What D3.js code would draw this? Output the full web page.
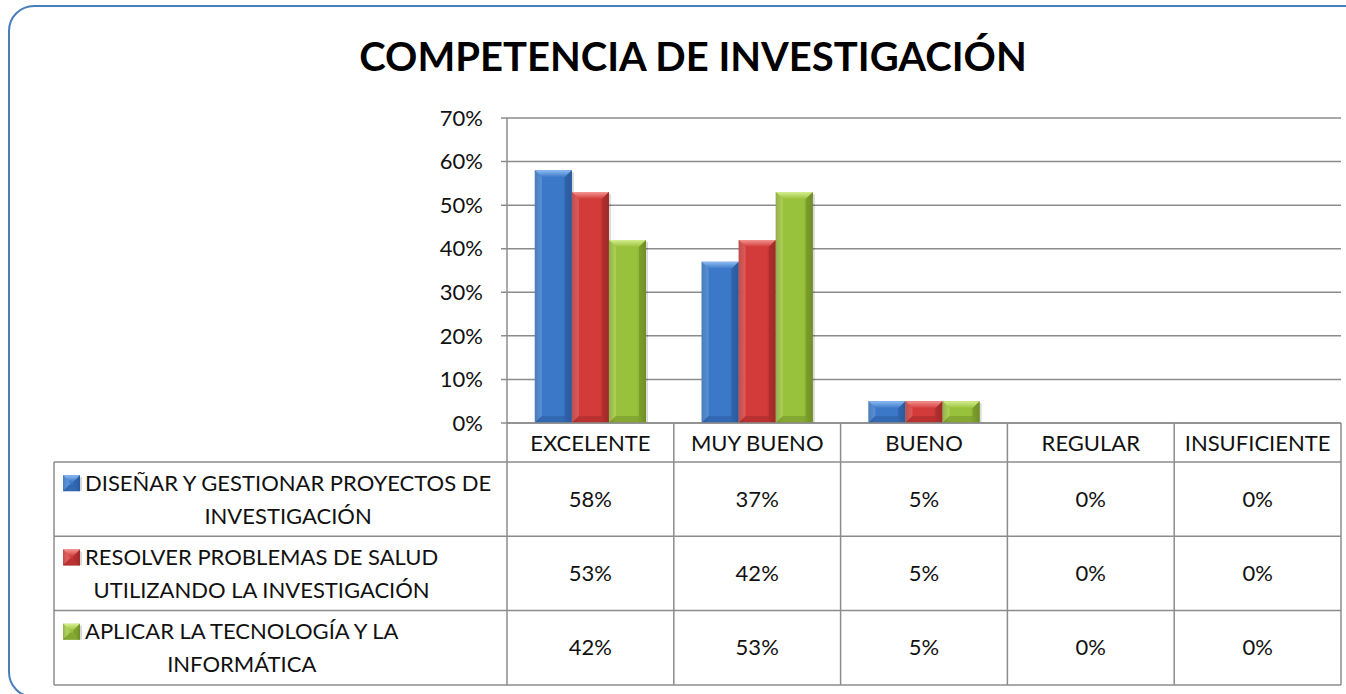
<!DOCTYPE html>
<html>
<head>
<meta charset="utf-8">
<script src="https://cdn.jsdelivr.net/npm/d3@7"></script>
<style>
  body { margin: 0; background: #fff; }
  svg { display: block; font-family: Lato, "Open Sans", sans-serif; }
</style>
</head>
<body>
<script>
// data
var categories = ["EXCELENTE", "MUY BUENO", "BUENO", "REGULAR", "INSUFICIENTE"];
var seriesNames = [
  ["DISEÑAR Y GESTIONAR PROYECTOS DE", "INVESTIGACIÓN"],
  ["RESOLVER PROBLEMAS DE SALUD", "UTILIZANDO LA INVESTIGACIÓN"],
  ["APLICAR LA TECNOLOGÍA Y LA", "INFORMÁTICA"]
];
var disenar = [58, 37, 5, 0, 0];
var resolver = [53, 42, 5, 0, 0];
var aplicar = [42, 53, 5, 0, 0];
var yTicks = [0, 10, 20, 30, 40, 50, 60, 70];
var title = "COMPETENCIA DE INVESTIGACIÓN";

var allSeries = [disenar, resolver, aplicar];
var colors = [
  {base: "#3b78c8", light: "#8cbcf2", dark: "#2a5a9c"},
  {base: "#d23b39", light: "#f39591", dark: "#a02a29"},
  {base: "#98c13c", light: "#d6ee8e", dark: "#6f8f26"}
];

window.onload = function() {
  drawChart();
};

function drawChart() {
  var W = 1346, H = 694;
  var svg = d3.select("body").append("svg")
    .attr("width", W)
    .attr("height", H);

  // frame
  svg.append("rect")
    .attr("x", 9).attr("y", 6)
    .attr("width", 1420).attr("height", 691)
    .attr("rx", 25).attr("ry", 25)
    .attr("fill", "none")
    .attr("stroke", "#4a7ebb")
    .attr("stroke-width", 2);

  // title
  svg.append("text")
    .attr("x", 693)
    .attr("y", 71)
    .attr("text-anchor", "middle")
    .style("font-weight", "bold")
    .style("font-size", "40px")
    .text(title);

  // plot area
  var left = 507, right = 1341, plotTop = 118, bottom = 423;
  var tableLeft = 54;
  var headerBottom = 462, rowH = 74.3;
  var fs = "22px";

  var x = d3.scaleBand().domain(categories).range([left, right]);
  var xSub = d3.scaleBand().domain([0, 1, 2]).range([0, x.bandwidth()])
    .paddingInner(0).paddingOuter(0.75);
  var y = d3.scaleLinear().domain([0, 70]).range([bottom, plotTop]);

  // gridlines
  svg.append("g")
    .selectAll("line")
    .data(yTicks)
    .enter()
    .append("line")
    .attr("x1", left - 6)
    .attr("x2", right)
    .attr("y1", function(d) { return y(d); })
    .attr("y2", function(d) { return y(d); })
    .attr("stroke", "#8c8c8c")
    .attr("stroke-width", 1.5);

  // y axis line
  svg.append("line")
    .attr("x1", left).attr("x2", left)
    .attr("y1", plotTop).attr("y2", bottom)
    .attr("stroke", "#8c8c8c").attr("stroke-width", 1.5);

  // y labels
  svg.append("g")
    .selectAll("text")
    .data(yTicks)
    .enter()
    .append("text")
    .attr("x", 483)
    .attr("y", function(d) { return y(d); })
    .attr("dy", "0.35em")
    .attr("text-anchor", "end")
    .style("font-size", fs)
    .attr("fill", "#111")
    .text(function(d) { return d + "%"; });

  // gradients
  var defs = svg.append("defs");
  colors.forEach(function(c, i) {
    var g = defs.append("linearGradient")
      .attr("id", "grad" + i)
      .attr("x1", "0").attr("x2", "1").attr("y1", "0").attr("y2", "0");
    g.append("stop").attr("offset", "0%").attr("stop-color", c.dark);
    g.append("stop").attr("offset", "18%").attr("stop-color", c.base);
    g.append("stop").attr("offset", "75%").attr("stop-color", c.base);
    g.append("stop").attr("offset", "100%").attr("stop-color", c.dark);
    var t = defs.append("linearGradient")
      .attr("id", "top" + i)
      .attr("x1", "0").attr("x2", "0").attr("y1", "0").attr("y2", "1");
    t.append("stop").attr("offset", "0%").attr("stop-color", c.light);
    t.append("stop").attr("offset", "100%").attr("stop-color", c.base);
  });

  // bevelled bar
  function drawBevel(g, bx, by, bw, bh, i) {
    var c = colors[i];
    var b = Math.min(7, bh / 2);
    // soft shadow on the right
    g.append("rect")
      .attr("x", bx + 2).attr("y", by + 2)
      .attr("width", bw).attr("height", bh - 2)
      .attr("fill", "#000").attr("opacity", 0.15);
    g.append("rect")
      .attr("x", bx).attr("y", by)
      .attr("width", bw).attr("height", bh)
      .attr("fill", "url(#grad" + i + ")");
    // left facet
    g.append("polygon")
      .attr("points", [[bx, by], [bx + b, by + b], [bx + b, by + bh - b], [bx, by + bh]].join(" "))
      .attr("fill", c.light).attr("opacity", 0.35);
    // top facet
    g.append("polygon")
      .attr("points", [[bx, by], [bx + bw, by], [bx + bw - b, by + b], [bx + b, by + b]].join(" "))
      .attr("fill", "url(#top" + i + ")");
    // right facet
    g.append("polygon")
      .attr("points", [[bx + bw, by], [bx + bw, by + bh], [bx + bw - b, by + bh - b], [bx + bw - b, by + b]].join(" "))
      .attr("fill", c.dark).attr("opacity", 0.6);
    // bottom facet
    g.append("polygon")
      .attr("points", [[bx, by + bh], [bx + bw, by + bh], [bx + bw - b, by + bh - b], [bx + b, by + bh - b]].join(" "))
      .attr("fill", c.dark).attr("opacity", 0.5);
  }

  var bars = svg.append("g");
  allSeries.forEach(function(vals, i) {
    vals.forEach(function(v, j) {
      if (v <= 0) return;
      var bx = x(categories[j]) + xSub(i);
      drawBevel(bars, bx, y(v), xSub.bandwidth(), bottom - y(v), i);
    });
  });

  // table
  var tbl = svg.append("g")
    .attr("stroke", "#8c8c8c")
    .attr("stroke-width", 1.5);
  var tableBottom = headerBottom + rowH * 3;

  tbl.append("line").attr("x1", left).attr("x2", right).attr("y1", bottom).attr("y2", bottom);
  for (var r = 0; r <= 3; r++) {
    tbl.append("line")
      .attr("x1", tableLeft).attr("x2", right)
      .attr("y1", headerBottom + r * rowH).attr("y2", headerBottom + r * rowH);
  }
  tbl.append("line").attr("x1", tableLeft).attr("x2", tableLeft).attr("y1", headerBottom).attr("y2", tableBottom);
  categories.forEach(function(c) {
    tbl.append("line")
      .attr("x1", x(c)).attr("x2", x(c))
      .attr("y1", bottom).attr("y2", tableBottom);
  });
  tbl.append("line").attr("x1", right).attr("x2", right).attr("y1", bottom).attr("y2", tableBottom);

  // header labels
  svg.append("g")
    .selectAll("text")
    .data(categories)
    .enter()
    .append("text")
    .attr("x", function(d) { return x(d) + x.bandwidth() / 2; })
    .attr("y", (bottom + headerBottom) / 2 + 1)
    .attr("dy", "0.35em")
    .attr("text-anchor", "middle")
    .style("font-size", fs)
    .attr("fill", "#111")
    .text(function(d) { return d; });

  // row labels and values
  allSeries.forEach(function(vals, i) {
    var cy = headerBottom + rowH * i + rowH / 2;
    var kg = svg.append("g");
    drawBevel(kg, 63, cy - 24, 17, 16, i);

    var first = svg.append("text")
      .attr("x", 85)
      .attr("y", cy - 16)
      .attr("dy", "0.35em")
      .style("font-size", fs)
      .attr("fill", "#111")
      .text(seriesNames[i][0]);
    // second line centred under the first one
    var w1 = first.node().getComputedTextLength();
    svg.append("text")
      .attr("x", 85 + w1 / 2)
      .attr("y", cy + 17)
      .attr("dy", "0.35em")
      .attr("text-anchor", "middle")
      .style("font-size", fs)
      .attr("fill", "#111")
      .text(seriesNames[i][1]);

    svg.append("g")
      .selectAll("text")
      .data(vals)
      .enter()
      .append("text")
      .attr("x", function(d, j) { return x(categories[j]) + x.bandwidth() / 2; })
      .attr("y", cy)
      .attr("dy", "0.35em")
      .attr("text-anchor", "middle")
      .style("font-size", fs)
      .attr("fill", "#111")
      .text(function(d) { return d + "%"; });
  });
}
</script>
</body>
</html>
